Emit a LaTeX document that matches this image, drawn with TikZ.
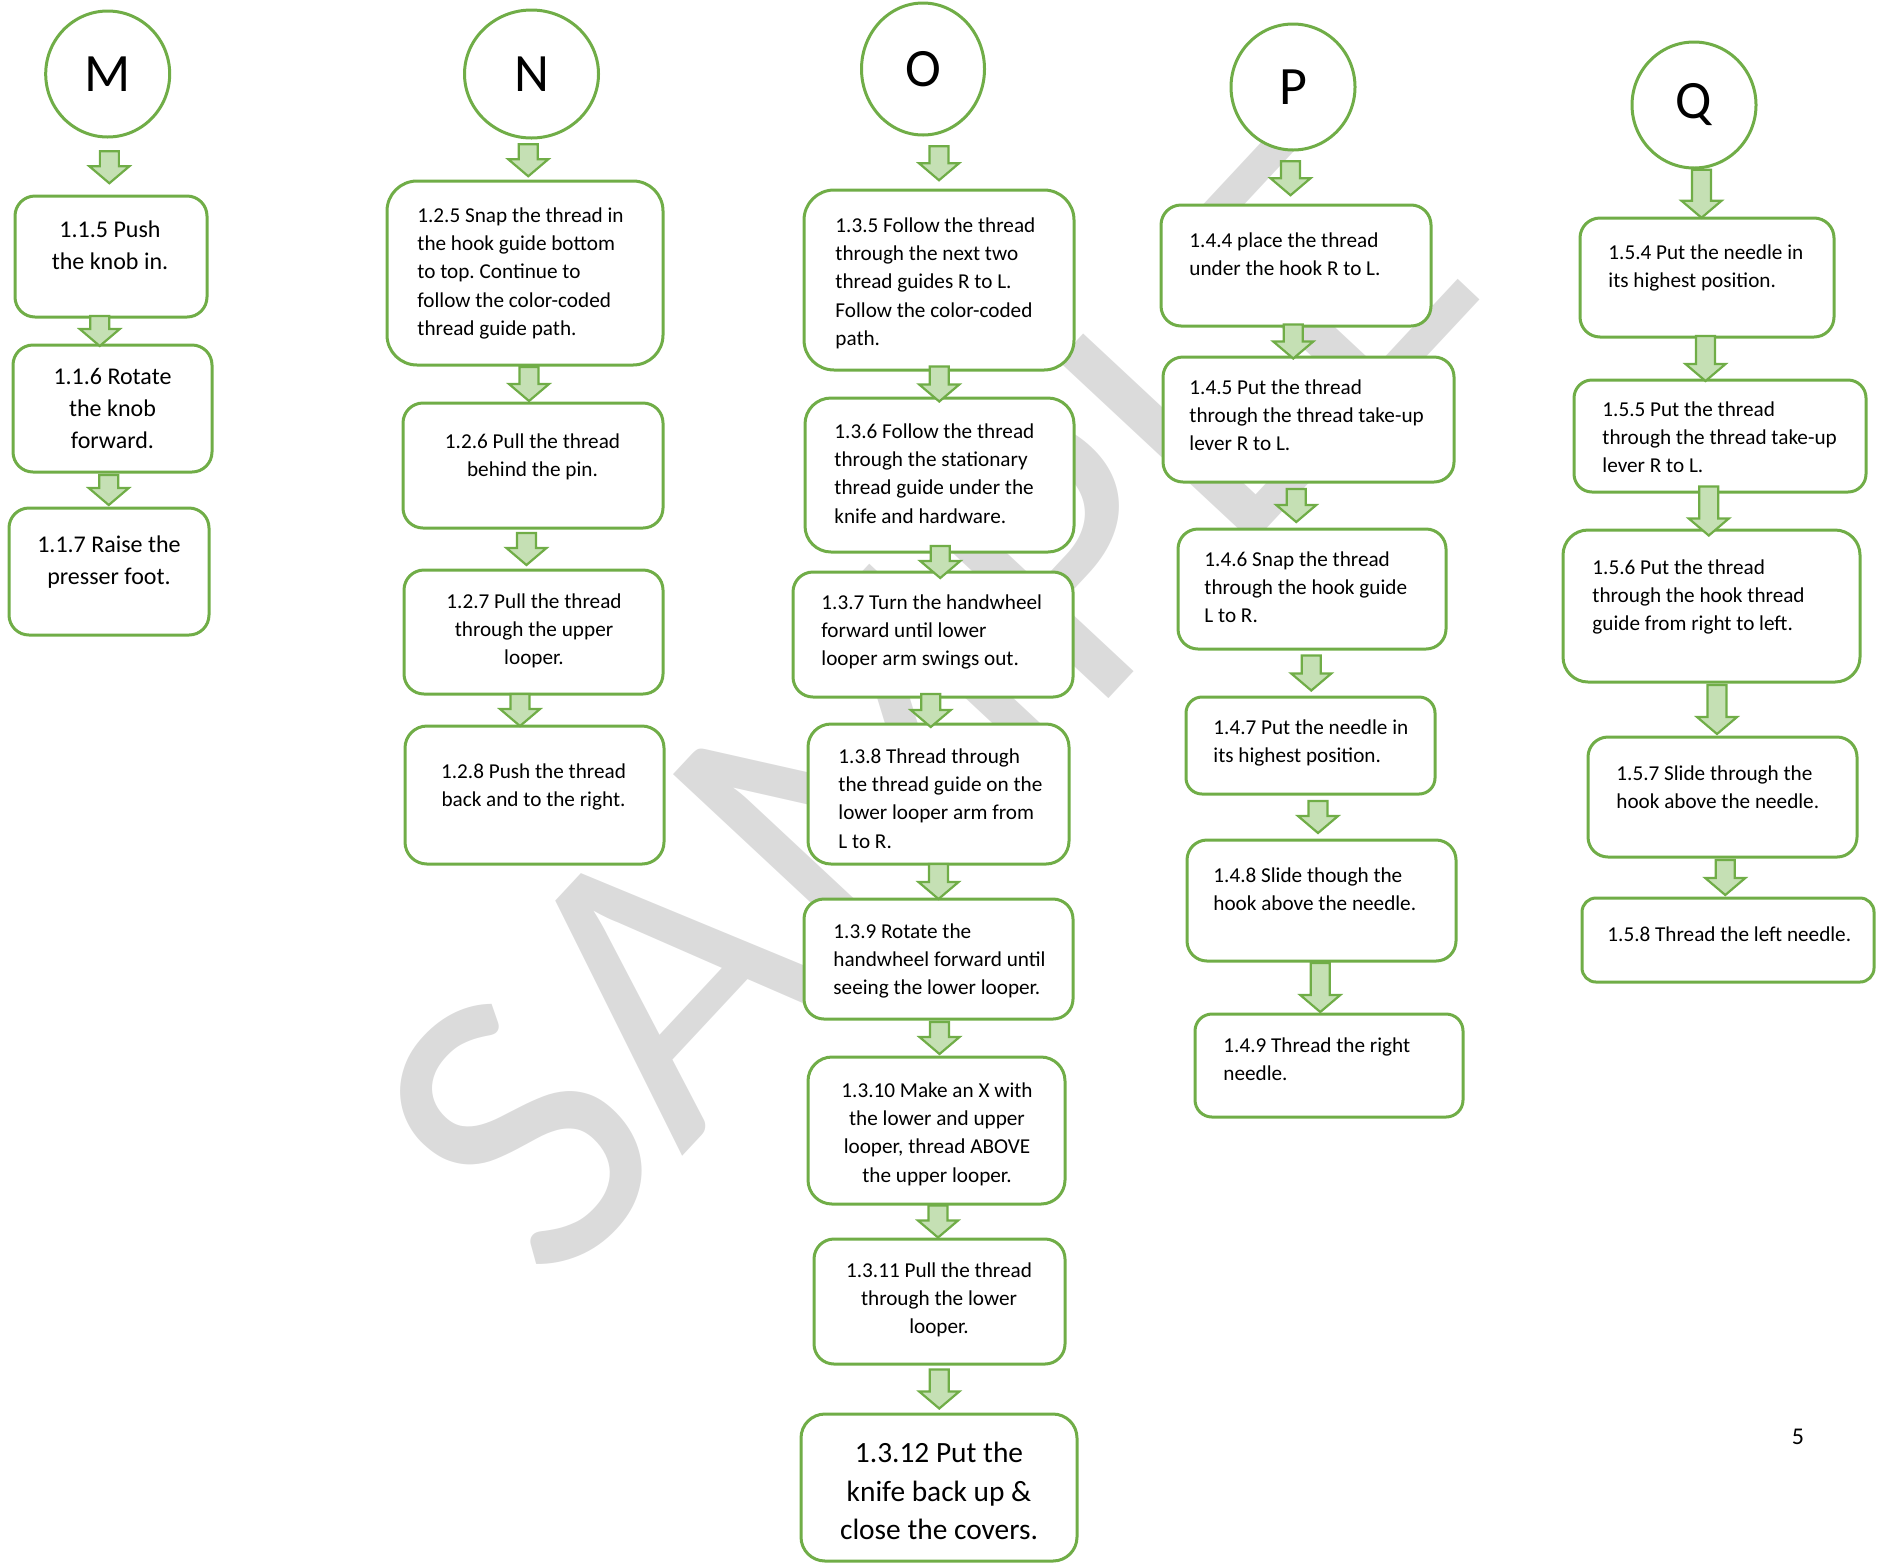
\documentclass[tikz,border=0pt]{standalone}
\usepackage{fontspec}
\setmainfont{Carlito}
\usepackage{tikz}
\usetikzlibrary{calc, shapes.geometric}
\frenchspacing

\definecolor{stepgreen}{RGB}{112,173,71}
\definecolor{arrowgreen}{RGB}{197,224,180}
\definecolor{markgray}{RGB}{219,219,219}

\tikzset{
    letter/.style={ellipse, draw=stepgreen, line width=1.5pt, fill=white, inner sep=0pt, font=\fontsize{27}{32}\selectfont},
    stepbox/.style={draw=stepgreen, line width=1.5pt, fill=white, rounded corners=10pt, inner sep=0pt, outer sep=0pt},
    steptext/.style={inner sep=0pt, align=left, font=\fontsize{10.6}{14.2}\selectfont, execute at begin node=\strut},
    bigtext/.style={steptext, font=\fontsize{12}{16}\selectfont},
    hugetext/.style={steptext, font=\fontsize{14.7}{19.2}\selectfont},
    arrow half/.store in=\arrowhalf, arrow half=8pt,
    arrow dx/.store in=\arrowdx, arrow dx=0pt,
    flow/.style={draw=stepgreen, fill=arrowgreen, line width=1.1pt,
        to path={let \p1=($(\tikztostart)!0.5!(\tikztotarget)+(\arrowdx,0)$) in
            (\x1-4.75pt,\y1+\arrowhalf) -- (\x1+4.75pt,\y1+\arrowhalf)
            -- (\x1+4.75pt,\y1-\arrowhalf+8.5pt) -- (\x1+10pt,\y1-\arrowhalf+8.5pt)
            -- (\x1,\y1-\arrowhalf) -- (\x1-10pt,\y1-\arrowhalf+8.5pt)
            -- (\x1-4.75pt,\y1-\arrowhalf+8.5pt) -- cycle}}
}

\begin{document}
\begin{tikzpicture}[x=0.5pt, y=-0.5pt]
            \useasboundingbox (0,0) rectangle (1877,1564);

            % watermark
            \node[text=markgray, rotate=47, font=\fontsize{208}{220}\selectfont] (mark) at (925,700) {SAMPLE};

            % column M
            \node[letter, minimum width=62pt, minimum height=63pt] (cM) at (107.7,74) {M};
            \node[stepbox, minimum width=96pt, minimum height=60.5pt] (b115) at (111,256.5) {};
            \node[stepbox, minimum width=99.5pt, minimum height=63.5pt] (b116) at (112.5,408.5) {};
            \node[stepbox, minimum width=100pt, minimum height=63.5pt] (b117) at (109,571.5) {};
            \node[bigtext, align=center, anchor=north] (t115) at (110,220) {1.1.5 Push\\the knob in.};
            \node[bigtext, align=center, anchor=north] (t116) at (112.5,368) {1.1.6 Rotate\\the knob\\forward.};
            \node[bigtext, align=center, anchor=north] (t117) at (109,535) {1.1.7 Raise the\\presser foot.};
            \draw[flow] (cM.south) to (b115.north);
            \draw[flow, arrow half=7.5pt, arrow dx=-6pt] (b115.south) to (b116.north);
            \draw[flow, arrow half=7.5pt, arrow dx=-1pt] (b116.south) to (b117.north);

            % column N
            \node[letter, minimum width=67pt, minimum height=64pt] (cN) at (531.5,74) {N};
            \node[stepbox, rounded corners=15pt, minimum width=138pt, minimum height=92pt] (b125) at (525,273) {};
            \node[stepbox, minimum width=130pt, minimum height=62.5pt] (b126) at (533,465.5) {};
            \node[stepbox, minimum width=129.5pt, minimum height=62pt] (b127) at (533.5,632) {};
            \node[stepbox, rounded corners=11pt, minimum width=129.5pt, minimum height=69pt] (b128) at (534.5,795) {};
            \node[steptext, anchor=north west] (t125) at (417,207) {1.2.5 Snap the thread in\\the hook guide bottom\\to top. Continue to\\follow the color-coded\\thread guide path.};
            \node[steptext, align=center, anchor=north] (t126) at (532.5,433) {1.2.6 Pull the thread\\behind the pin.};
            \node[steptext, align=center, anchor=north] (t127) at (534,593) {1.2.7 Pull the thread\\through the upper\\looper.};
            \node[steptext, align=center, anchor=north] (t128) at (533.5,763) {1.2.8 Push the thread\\back and to the right.};
            \draw[flow] (cN.south) to (b125.north);
            \draw[flow, arrow half=8.5pt] (b125.south) to (b126.north);
            \draw[flow, arrow dx=-3.4pt] (b126.south) to (b127.north);
            \draw[flow, arrow dx=-7pt] (b127.south) to (b128.north);

            % column O
            \node[letter, minimum width=61.5pt, minimum height=66pt] (cO) at (923,69) {O};
            \node[stepbox, rounded corners=15pt, minimum width=135pt, minimum height=90pt] (b135) at (939,280) {};
            \node[stepbox, rounded corners=13pt, minimum width=134.5pt, minimum height=77pt] (b136) at (939.5,475) {};
            \node[stepbox, minimum width=140pt, minimum height=62.5pt] (b137) at (933,634.5) {};
            \node[stepbox, rounded corners=11.5pt, minimum width=130.5pt, minimum height=70pt] (b138) at (938.5,794) {};
            \node[stepbox, minimum width=134.5pt, minimum height=60pt] (b139) at (938.5,959) {};
            \node[stepbox, rounded corners=12pt, minimum width=128.5pt, minimum height=73.5pt] (b1310) at (936.5,1130.5) {};
            \node[stepbox, minimum width=125.5pt, minimum height=62.5pt] (b1311) at (939.5,1301.5) {};
            \node[stepbox, rounded corners=12pt, minimum width=138pt, minimum height=73.5pt] (b1312) at (939,1487.5) {};
            \node[steptext, anchor=north west] (t135) at (835,217) {1.3.5 Follow the thread\\through the next two\\thread guides R to L.\\Follow the color-coded\\path.};
            \node[steptext, anchor=north west] (t136) at (834,423) {1.3.6 Follow the thread\\through the stationary\\thread guide under the\\knife and hardware.};
            \node[steptext, anchor=north west] (t137) at (821,594) {1.3.7 Turn the handwheel\\forward until lower\\looper arm swings out.};
            \node[steptext, anchor=north west] (t138) at (838,748) {1.3.8 Thread through\\the thread guide on the\\lower looper arm from\\L to R.};
            \node[steptext, anchor=north west] (t139) at (833,923) {1.3.9 Rotate the\\handwheel forward until\\seeing the lower looper.};
            \node[steptext, align=center, anchor=north] (t1310) at (937,1082) {1.3.10 Make an X with\\the lower and upper\\looper, thread ABOVE\\the upper looper.};
            \node[steptext, align=center, anchor=north] (t1311) at (939,1262) {1.3.11 Pull the thread\\through the lower\\looper.};
            \node[hugetext, align=center, anchor=north] (t1312) at (939,1442) {1.3.12 Put the\\knife back up \&\\close the covers.};
            \draw[flow, arrow half=8.5pt, arrow dx=4pt] (cO.south) to (b135.north);
            \draw[flow, arrow half=8.75pt] (b135.south) to (b136.north);
            \draw[flow, arrow dx=2pt] (b136.south) to (b137.north);
            \draw[flow, arrow half=8.25pt, arrow dx=-2.5pt] (b137.south) to (b138.north);
            \draw[flow, arrow half=8.75pt] (b138.south) to (b139.north);
            \draw[flow, arrow dx=1pt] (b139.south) to (b1310.north);
            \draw[flow] (b1310.south) to (b1311.north);
            \draw[flow, arrow half=9.75pt] (b1311.south) to (b1312.north);

            % column P
            \node[letter, minimum width=62pt, minimum height=63pt] (cP) at (1293,87) {P};
            \node[stepbox, minimum width=135pt, minimum height=60.5pt] (b144) at (1296,265.5) {};
            \node[stepbox, minimum width=145.5pt, minimum height=62.5pt] (b145) at (1308.5,419.5) {};
            \node[stepbox, minimum width=134pt, minimum height=60pt] (b146) at (1312,589) {};
            \node[stepbox, rounded corners=8pt, minimum width=124.5pt, minimum height=48.5pt] (b147) at (1310.5,745.5) {};
            \node[stepbox, minimum width=134.5pt, minimum height=60.5pt] (b148) at (1321.5,900.5) {};
            \node[stepbox, rounded corners=8.5pt, minimum width=134pt, minimum height=51.5pt] (b149) at (1329,1065.5) {};
            \node[steptext, anchor=north west] (t144) at (1189,232) {1.4.4 place the thread\\under the hook R to L.};
            \node[steptext, anchor=north west] (t145) at (1189,379) {1.4.5 Put the thread\\through the thread take-up\\lever R to L.};
            \node[steptext, anchor=north west] (t146) at (1204,551) {1.4.6 Snap the thread\\through the hook guide\\L to R.};
            \node[steptext, anchor=north west] (t147) at (1213,719) {1.4.7 Put the needle in\\its highest position.};
            \node[steptext, anchor=north west] (t148) at (1213,867) {1.4.8 Slide though the\\hook above the needle.};
            \node[steptext, anchor=north west] (t149) at (1223,1037) {1.4.9 Thread the right\\needle.};
            \draw[flow, arrow half=8.5pt, arrow dx=-2pt] (cP.south) to (b144.north);
            \draw[flow, arrow half=8.5pt, arrow dx=-4.5pt] (b144.south) to (b145.north);
            \draw[flow, arrow half=8.25pt, arrow dx=-7pt] (b145.south) to (b146.north);
            \draw[flow, arrow half=8.75pt] (b146.south) to (b147.north);
            \draw[flow, arrow dx=1pt] (b147.south) to (b148.north);
            \draw[flow, arrow half=12.25pt, arrow dx=-2.5pt] (b148.south) to (b149.north);

            % column Q
            \node[letter, minimum width=62pt, minimum height=63pt] (cQ) at (1694,105) {Q};
            \node[stepbox, minimum width=127pt, minimum height=59.5pt] (b154) at (1707,277.5) {};
            \node[stepbox, rounded corners=9pt, minimum width=146pt, minimum height=56pt] (b155) at (1720,436) {};
            \node[stepbox, rounded corners=12.5pt, minimum width=148.5pt, minimum height=76pt] (b156) at (1711.5,606) {};
            \node[stepbox, minimum width=134.5pt, minimum height=60pt] (b157) at (1722.5,797) {};
            \node[stepbox, rounded corners=7pt, minimum width=146pt, minimum height=42pt] (b158) at (1728,940) {};
            \node[steptext, anchor=north west] (t154) at (1608,244) {1.5.4 Put the needle in\\its highest position.};
            \node[steptext, anchor=north west] (t155) at (1602,401) {1.5.5 Put the thread\\through the thread take-up\\lever R to L.};
            \node[steptext, anchor=north west] (t156) at (1592,559) {1.5.6 Put the thread\\through the hook thread\\guide from right to left.};
            \node[steptext, anchor=north west] (t157) at (1616,765) {1.5.7 Slide through the\\hook above the needle.};
            \node[steptext, anchor=north west] (t158) at (1607,921) {1.5.8 Thread the left needle.};
            \draw[flow, arrow half=12pt, arrow dx=0.5pt] (cQ.south) to (b154.north);
            \draw[flow, arrow half=11.25pt, arrow dx=-4pt] (b154.south) to (b155.north);
            \draw[flow, arrow half=12.25pt, arrow dx=-3.5pt] (b155.south) to (b156.north);
            \draw[flow, arrow half=12.25pt] (b156.south) to (b157.north);
            \draw[flow, arrow half=8.75pt] (b157.south) to (b158.north);

            % page number
            \node[font=\fontsize{12}{14}\selectfont] (page) at (1798,1437) {5};
        \end{tikzpicture}
\end{document}
